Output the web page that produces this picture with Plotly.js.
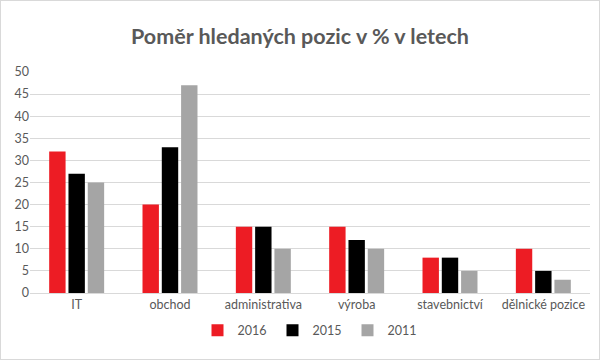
<!DOCTYPE html>
<html><head><meta charset="utf-8">
<script src="https://cdn.plot.ly/plotly-3.0.1.min.js"></script>
<style>html,body{margin:0;padding:0;background:#fff}#c{width:600px;height:360px;box-sizing:border-box;border:1px solid #d9d9d9}</style>
</head><body><div id="c"></div>
<script>
const categories = ["IT", "obchod", "administrativa", "výroba", "stavebnictví", "dělnické pozice"];
const v2016 = [32, 20, 15, 15, 8, 10];
const v2015 = [27, 33, 15, 12, 8, 5];
const v2011 = [25, 47, 10, 10, 5, 3];
const yTicks = [0, 5, 10, 15, 20, 25, 30, 35, 40, 45, 50];

const mk = (name, y, color) => ({type: 'bar', name, x: categories, y, marker: {color}, hoverinfo: 'none'});
const data = [mk('2016', v2016, '#ed1c24'), mk('2015', v2015, '#000000'), mk('2011', v2011, '#a5a5a5')];
const layout = {
  width: 598, height: 358,
  margin: {l: 29, r: 9, t: 71, b: 66},
  paper_bgcolor: '#fff', plot_bgcolor: '#fff',
  font: {family: 'Lato, "Open Sans", sans-serif', size: 12, color: '#595959'},
  title: {text: '<b>Poměr hledaných pozic v % v letech</b>', x: 0.5, xanchor: 'center', y: 0.9, yanchor: 'middle', font: {size: 21.5, color: '#595959'}},
  barmode: 'group', bargap: 0.38, bargroupgap: 0.15,
  xaxis: {showgrid: false, showline: true, linecolor: '#d9d9d9', ticks: '', tickfont: {size: 12.5, color: '#595959'}, fixedrange: true},
  yaxis: {range: [0, 50], tickvals: yTicks, showgrid: true, gridcolor: '#d9d9d9', zeroline: false, showline: false, ticks: '', tickfont: {size: 12.5, color: '#595959'}, fixedrange: true},
  legend: {orientation: 'h', x: 0.5, xanchor: 'center', y: -0.17, yanchor: 'middle', font: {size: 12.5, color: '#595959'}, itemwidth: 30, entrywidth: 30, entrywidthmode: 'pixels'},
  showlegend: true
};
Plotly.newPlot('c', data, layout, {displayModeBar: false, staticPlot: true});
</script></body></html>
